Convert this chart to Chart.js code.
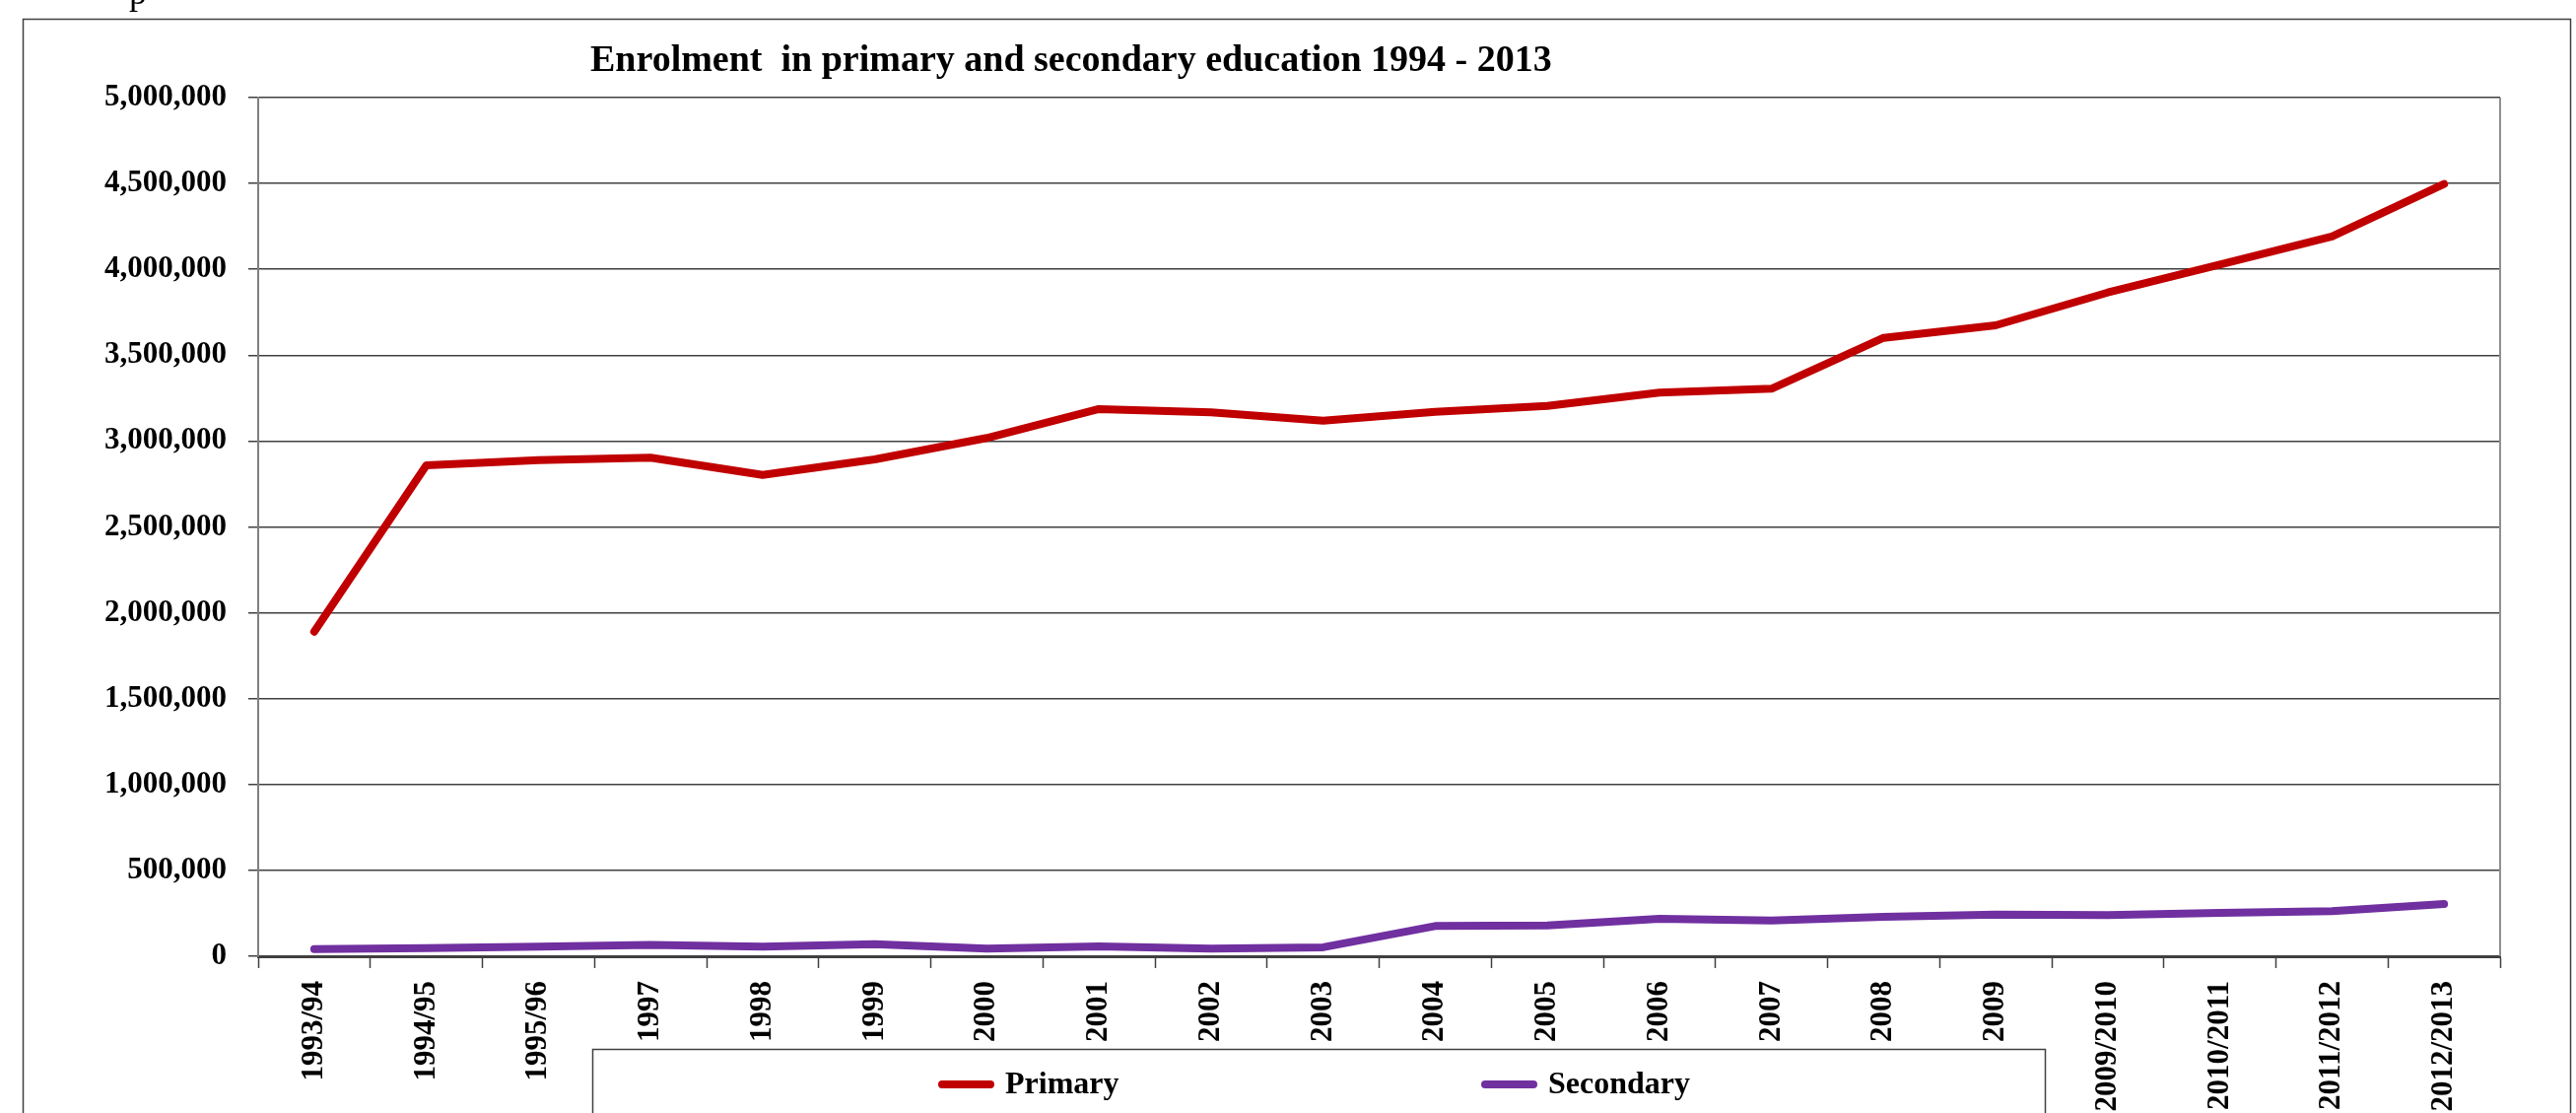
<!DOCTYPE html>
<html>
<head>
<meta charset="utf-8">
<script src="https://cdn.jsdelivr.net/npm/chart.js@4/dist/chart.umd.min.js"></script>
<style>
  html, body { margin: 0; padding: 0; background: #fff; overflow: hidden; }
  #wrap { width: 2614px; height: 1129px; position: relative; }
</style>
</head>
<body>
<div id="wrap"><canvas id="myChart" width="2614" height="1129"></canvas></div>
<script>
const years = ['1993/94', '1994/95', '1995/96', '1997', '1998', '1999', '2000', '2001', '2002', '2003',
  '2004', '2005', '2006', '2007', '2008', '2009', '2009/2010', '2010/2011', '2011/2012', '2012/2013'];
const primary = [1890000, 2859000, 2889000, 2903000, 2803000, 2893000, 3018000, 3186000, 3167000, 3119000,
  3170000, 3205000, 3282000, 3305000, 3601000, 3674000, 3865000, 4028000, 4191000, 4497000];
const secondary = [42000, 47000, 56000, 66000, 56000, 71000, 44000, 57000, 44000, 52000,
  176000, 180000, 218000, 208000, 230000, 243000, 239000, 253000, 262000, 304000];
const yTicks = { min: 0, max: 5000000, step: 500000 };
const titleText = 'Enrolment  in primary and secondary education 1994 - 2013';

const serif = '"Liberation Serif", "Times New Roman", serif';

// frame, title, right edge, legend box
const decor = {
  id: 'decor',
  beforeDraw(chart) {
    const c = chart.ctx;
    c.save();
    c.fillStyle = '#fff';
    c.fillRect(0, 0, chart.width, chart.height);
    c.strokeStyle = '#404040';
    c.lineWidth = 1.5;
    c.strokeRect(23.5, 19.5, 2585, 1200);
    c.fillStyle = '#000';
    c.font = '36px ' + serif;
    c.textBaseline = 'alphabetic';
    c.fillText('p', 131, 4);
    c.restore();
  },
  afterDraw(chart) {
    const c = chart.ctx;
    const a = chart.chartArea;
    c.save();
    c.strokeStyle = '#909090';
    c.lineWidth = 2;
    c.beginPath();
    c.moveTo(a.right, a.top);
    c.lineTo(a.right, a.bottom);
    c.stroke();

    c.fillStyle = '#000';
    c.font = 'bold 38px ' + serif;
    c.textAlign = 'left';
    c.textBaseline = 'alphabetic';
    c.fillText(titleText, 599, 72);

    // legend
    c.strokeStyle = '#404040';
    c.lineWidth = 1.5;
    c.fillStyle = '#fff';
    c.fillRect(601, 1064, 1474, 200);
    c.strokeRect(601.5, 1064.5, 1474, 200);
    const startX = [953, 1504];
    chart.data.datasets.forEach((ds, i) => {
      const x = startX[i];
      const y = 1100;
      c.strokeStyle = ds.borderColor;
      c.lineWidth = 8;
      c.lineCap = 'round';
      c.beginPath();
      c.moveTo(x + 3, y);
      c.lineTo(x + 52, y);
      c.stroke();
      c.fillStyle = '#000';
      c.font = 'bold 32px ' + serif;
      c.textBaseline = 'middle';
      c.fillText(ds.label, x + 67, y + 1);
    });
    c.restore();
  }
};

const ctx = document.getElementById('myChart').getContext('2d');
const myChart = new Chart(ctx, {
  type: 'line',
  data: {
    labels: years,
    datasets: [{
      label: 'Primary',
      data: primary,
      borderColor: '#C00000',
      backgroundColor: '#C00000',
      borderWidth: 8,
      borderCapStyle: 'round',
      borderJoinStyle: 'round',
      pointRadius: 0,
      tension: 0
    }, {
      label: 'Secondary',
      data: secondary,
      borderColor: '#7030A0',
      backgroundColor: '#7030A0',
      borderWidth: 8,
      borderCapStyle: 'round',
      borderJoinStyle: 'round',
      pointRadius: 0,
      tension: 0
    }]
  },
  options: {
    responsive: false,
    animation: false,
    layout: { padding: { left: 0, right: 77, top: 99, bottom: 0 } },
    plugins: {
      legend: { display: false },
      title: { display: false },
      tooltip: { enabled: false }
    },
    scales: {
      x: {
        offset: true,
        afterFit(scale) { scale.height = 159; },
        grid: { drawOnChartArea: false, drawTicks: true, tickLength: 12, tickColor: '#404040', tickWidth: 1.5, offset: true },
        border: { display: true, color: '#404040', width: 3 },
        ticks: {
          autoSkip: false, maxRotation: 90, minRotation: 90, padding: 13,
          color: '#000', font: { family: serif, size: 31, weight: 'bold' }
        }
      },
      y: {
        min: yTicks.min,
        max: yTicks.max,
        afterFit(scale) { scale.width = 262; },
        grid: { color: '#404040', lineWidth: 1.5, drawTicks: true, tickLength: 10, tickColor: '#404040' },
        border: { display: true, color: '#808080', width: 2 },
        ticks: {
          stepSize: yTicks.step, padding: 22,
          color: '#000', font: { family: serif, size: 31, weight: 'bold' },
          callback: v => v.toLocaleString('en-US')
        }
      }
    }
  },
  plugins: [decor]
});
</script>
</body>
</html>
